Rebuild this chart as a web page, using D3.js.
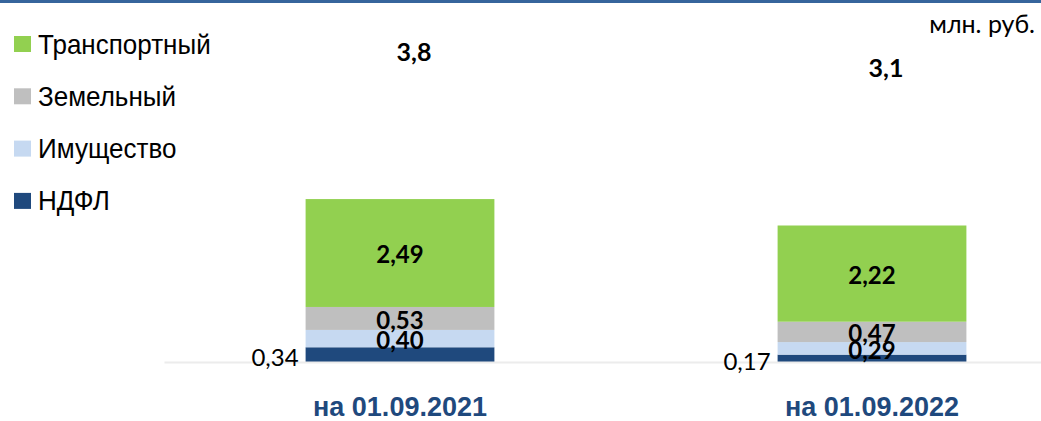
<!DOCTYPE html>
<html>
<head>
<meta charset="utf-8">
<script src="https://cdn.jsdelivr.net/npm/d3@7"></script>
<style>
  body { margin: 0; background: #fff; }
  svg { display: block; }
</style>
</head>
<body>
<div id="chart"></div>
<script>
// data, млн. руб.
const categories = ['на 01.09.2021', 'на 01.09.2022'];
const seriesNames = ['НДФЛ', 'Имущество', 'Земельный', 'Транспортный'];
const ndfl = [0.34, 0.17];
const imushchestvo = [0.40, 0.29];
const zemelny = [0.53, 0.47];
const transportny = [2.49, 2.22];
const totalLabels = ['3,8', '3,1'];
const colors = ['#1f497d', '#c6d9f1', '#bfbfbf', '#92d050'];

const width = 1041;
const height = 421;
const fmt = (v) => v.toFixed(2).replace('.', ',');

const rows = categories.map((c, i) => ({
    cat: c,
    'НДФЛ': ndfl[i],
    'Имущество': imushchestvo[i],
    'Земельный': zemelny[i],
    'Транспортный': transportny[i],
}));

const svg = d3.select('#chart')
    .append('svg')
    .attr('width', width)
    .attr('height', height);

// top rule
svg.append('rect')
    .attr('x', 0).attr('y', 0)
    .attr('width', width).attr('height', 3)
    .attr('fill', '#36659c');

const x = d3.scaleBand()
    .domain(categories)
    .range([164, 1108])
    .paddingInner(0.6)
    .paddingOuter(0.3);

const y = d3.scaleLinear()
    .domain([0, 4.5])
    .range([362, 167]);

// totals sit on their own (hidden) scale, like a secondary axis
const yTotal = d3.scaleLinear()
    .domain([0, 5.75])
    .range([150, 0]);

const stacked = d3.stack().keys(seriesNames)(rows);

const layers = svg.selectAll('g.layer')
    .data(stacked)
    .enter()
    .append('g')
    .attr('class', 'layer')
    .attr('fill', (d, i) => colors[i]);

layers.selectAll('rect')
    .data((d) => d)
    .enter()
    .append('rect')
    .attr('x', (d) => x(d.data.cat))
    .attr('y', (d) => y(d[1]))
    .attr('width', x.bandwidth())
    .attr('height', (d) => y(d[0]) - y(d[1]));

// x axis: light baseline + category labels
const xAxis = svg.append('g')
    .attr('transform', `translate(0,${y(0)})`)
    .call(d3.axisBottom(x).tickSize(0).tickPadding(35));
xAxis.select('.domain')
    .attr('stroke', '#ececec')
    .attr('stroke-width', 2);
xAxis.selectAll('text')
    .attr('fill', '#1f497d')
    .style('font-family', '"Liberation Sans", Arial, sans-serif')
    .style('font-weight', 'bold')
    .style('font-size', '27px');

// segment labels (inside for upper series, left of bar for НДФЛ)
stacked.forEach((layer, li) => {
    layer.forEach((d) => {
        const val = d[1] - d[0];
        const mid = (y(d[0]) + y(d[1])) / 2;
        if (li === 0) {
            svg.append('text')
                .attr('x', x(d.data.cat) - 7)
                .attr('y', mid + 3)
                .attr('dy', '0.35em')
                .attr('text-anchor', 'end')
                .style('font-family', 'Lato, sans-serif')
                .style('font-size', '24px')
                .attr('fill', '#000')
                .text(fmt(val));
        } else {
            svg.append('text')
                .attr('x', x(d.data.cat) + x.bandwidth() / 2)
                .attr('y', mid + 2)
                .attr('dy', '0.35em')
                .attr('text-anchor', 'middle')
                .style('font-family', 'Lato, sans-serif')
                .style('font-weight', 'bold')
                .style('font-size', '24px')
                .attr('fill', '#000')
                .text(fmt(val));
        }
    });
});

// totals
const totals = rows.map((r) => d3.sum(seriesNames, (k) => r[k]));
svg.selectAll('text.total')
    .data(categories)
    .enter()
    .append('text')
    .attr('class', 'total')
    .attr('x', (d) => x(d) + x.bandwidth() / 2 + 14)
    .attr('y', (d, i) => yTotal(totals[i]))
    .attr('dy', '0.35em')
    .attr('text-anchor', 'middle')
    .style('font-family', 'Lato, sans-serif')
    .style('font-weight', 'bold')
    .style('font-size', '25px')
    .text((d, i) => totalLabels[i]);

// unit
svg.append('text')
    .attr('x', 1035)
    .attr('y', 33)
    .attr('text-anchor', 'end')
    .style('font-family', 'Lato, sans-serif')
    .style('font-size', '25px')
    .text('млн. руб.');

// legend, top series first
const legendItems = seriesNames.map((s, i) => ({ name: s, color: colors[i] })).reverse();
const legend = svg.selectAll('g.legend')
    .data(legendItems)
    .enter()
    .append('g')
    .attr('class', 'legend')
    .attr('transform', (d, i) => `translate(14,${44.5 + i * 52.3})`);
legend.append('rect')
    .attr('x', 0)
    .attr('y', -8.5)
    .attr('width', 17)
    .attr('height', 16)
    .attr('fill', (d) => d.color);
legend.append('text')
    .attr('transform', 'translate(24,9) scale(0.93,1)')
    .style('font-family', '"Liberation Sans", Arial, sans-serif')
    .style('font-size', '28px')
    .attr('fill', '#000')
    .text((d) => d.name);
</script>
</body>
</html>
